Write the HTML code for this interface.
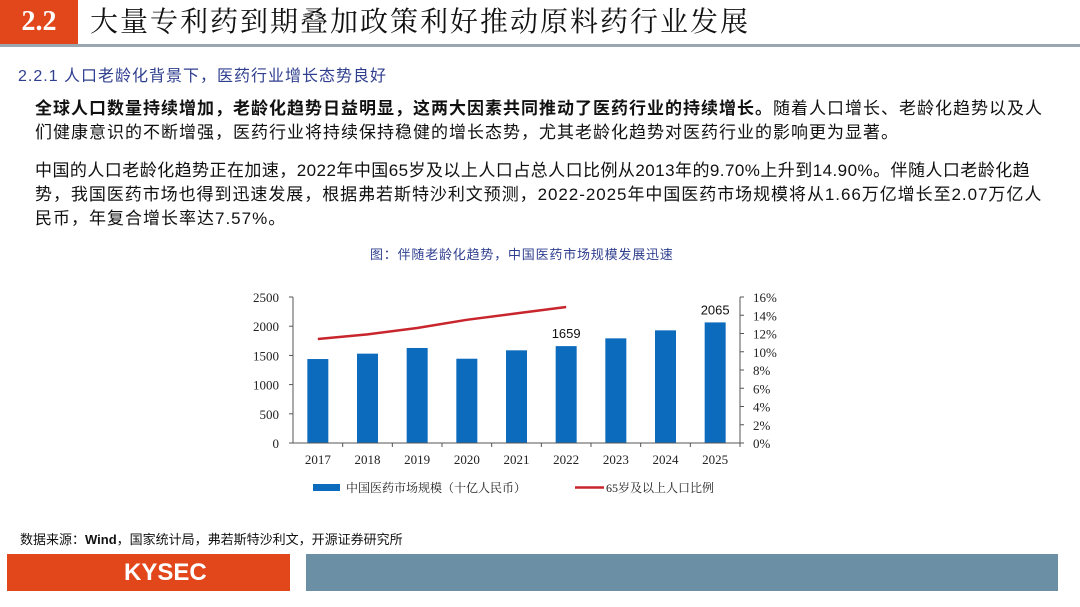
<!DOCTYPE html>
<html><head><meta charset="utf-8">
<style>
body{margin:0;width:1080px;height:607px;background:#fff;position:relative;overflow:hidden;font-family:"Liberation Sans","Noto Sans CJK SC",sans-serif;}
.abs{position:absolute;white-space:nowrap;}
.p{font-size:17px;color:#111;letter-spacing:1.0px;left:35px;}
</style></head><body>
<div class="abs" style="left:0;top:0;width:78px;height:44px;background:#e2461b;color:#fff;font:bold 28px 'Liberation Serif',serif;line-height:44px;text-align:center;">2.2</div>
<div class="abs" style="left:90px;top:3px;font-size:28px;line-height:40px;color:#111;font-family:'Liberation Serif','Noto Serif CJK SC',serif;letter-spacing:2px;">大量专利药到期叠加政策利好推动原料药行业发展</div>
<div class="abs" style="left:0;top:44px;width:1080px;height:3px;background:#9aa7b0;"></div>
<div class="abs" style="left:18px;top:62px;font-size:16px;color:#2f3f8f;letter-spacing:1px;">2.2.1 人口老龄化背景下，医药行业增长态势良好</div>
<div class="abs p" style="top:94px;"><b>全球人口数量持续增加，老龄化趋势日益明显，这两大因素共同推动了医药行业的持续增长。</b>随着人口增长、老龄化趋势以及人</div>
<div class="abs p" style="top:118px;">们健康意识的不断增强，医药行业将持续保持稳健的增长态势，尤其老龄化趋势对医药行业的影响更为显著。</div>
<div class="abs p" style="top:156px;letter-spacing:0.45px;">中国的人口老龄化趋势正在加速，2022年中国65岁及以上人口占总人口比例从2013年的9.70%上升到14.90%。伴随人口老龄化趋</div>
<div class="abs p" style="top:180px;letter-spacing:0.95px;">势，我国医药市场也得到迅速发展，根据弗若斯特沙利文预测，2022-2025年中国医药市场规模将从1.66万亿增长至2.07万亿人</div>
<div class="abs p" style="top:204px;">民币，年复合增长率达7.57%。</div>
<div class="abs" style="left:370px;top:244px;font-size:13px;color:#2f3f8f;letter-spacing:0.8px;">图：伴随老龄化趋势，中国医药市场规模发展迅速</div>

<svg id="chart" style="position:absolute;left:0;top:0" width="1080" height="607" font-family="Liberation Serif, serif" font-size="13"></svg>

<div class="abs" style="left:20px;top:529px;font-size:13px;color:#111;">数据来源：<b>Wind</b>，国家统计局，弗若斯特沙利文，开源证券研究所</div>
<div class="abs" style="left:7px;top:554px;width:283px;height:37px;background:#e2461b;color:#fff;font:bold 24px 'Liberation Sans',sans-serif;line-height:37px;"><span style="position:absolute;left:117px;">KYSEC</span></div>
<div class="abs" style="left:306px;top:554px;width:752px;height:37px;background:#6b90a6;"></div>

<script>
const years=["2017","2018","2019","2020","2021","2022","2023","2024","2025"];
const marketSize=[1438,1530,1627,1443,1587,1659,1792,1929,2065];
const agedRatio=[11.4,11.9,12.6,13.5,14.2,14.9];
const leftTicks=[0,500,1000,1500,2000,2500];
const rightTicks=[0,2,4,6,8,10,12,14,16];
const labeled={"2022":"1659","2025":"2065"};
const NS="http://www.w3.org/2000/svg";
const svg=document.getElementById('chart');
const X0=293,X1=740,Y0=443,Y1=297;
const step=(X1-X0)/years.length;
const xc=i=>X0+step*(i+0.5);
const yL=v=>Y0-(v/2500)*(Y0-Y1);
const yR=v=>Y0-(v/16)*(Y0-Y1);
function mk(t,a){const e=document.createElementNS(NS,t);for(const k in a)e.setAttribute(k,a[k]);svg.appendChild(e);return e;}
leftTicks.forEach(v=>{const t=mk('text',{x:X0-14,y:yL(v)+5,'text-anchor':'end',fill:'#222'});t.textContent=v;

});
rightTicks.forEach(v=>{const t=mk('text',{x:X1+13,y:yR(v)+5,fill:'#222'});t.textContent=v+'%';

});
marketSize.forEach((v,i)=>{const r=mk('rect',{x:xc(i)-10.5,y:yL(v),width:21,height:Y0-yL(v),fill:'#0d6bbd'});


const t=mk('text',{x:xc(i),y:Y0+21,'text-anchor':'middle',fill:'#222'});t.textContent=years[i];


if(labeled[years[i]]){const l=mk('text',{x:xc(i),y:yL(v)-8,'text-anchor':'middle',fill:'#111','font-family':'Liberation Sans, sans-serif','font-size':'13'});l.textContent=labeled[years[i]];

}});
const ax=mk('path',{d:`M${X0} ${Y1}V${Y0}H${X1}V${Y1}`,fill:'none',stroke:'#555','stroke-width':1});


leftTicks.forEach(v=>mk('line',{x1:X0-4,x2:X0,y1:yL(v),y2:yL(v),stroke:'#555'}));
rightTicks.forEach(v=>mk('line',{x1:X1,x2:X1+4,y1:yR(v),y2:yR(v),stroke:'#555'}));
years.forEach((y,i)=>mk('line',{x1:X0+step*(i+1),x2:X0+step*(i+1),y1:Y0,y2:Y0+4,stroke:'#555'}));
const ln=mk('polyline',{points:agedRatio.map((v,i)=>xc(i)+','+yR(v)).join(' '),fill:'none',stroke:'#c8252c','stroke-width':2.5});


const s1=mk('rect',{x:313,y:484,width:27,height:7,fill:'#0d6bbd'});


const t1=mk('text',{x:346,y:492,fill:'#222','font-size':'12','font-family':'Liberation Serif, Noto Serif CJK SC, serif'});t1.textContent='中国医药市场规模（十亿人民币）';


const s2=mk('line',{x1:575,x2:604,y1:487.5,y2:487.5,stroke:'#c8252c','stroke-width':2.5});


const t2=mk('text',{x:606,y:492,fill:'#222','font-size':'12','font-family':'Liberation Serif, Noto Serif CJK SC, serif'});t2.textContent='65岁及以上人口比例';


</script>
</body></html>
